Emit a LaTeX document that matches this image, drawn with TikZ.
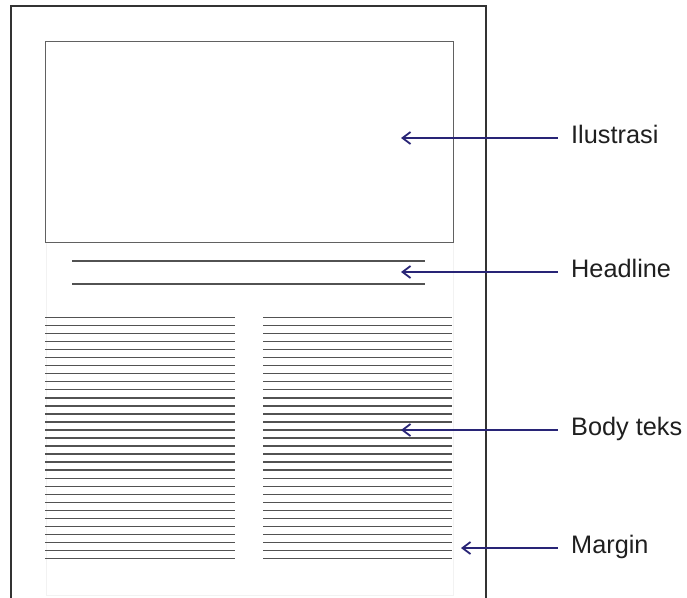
\documentclass[tikz,border=0pt]{standalone}
\usepackage{fontspec}
\setmainfont{Liberation Sans}
\usepackage{xcolor}
\usepackage{tikz}
\usetikzlibrary{arrows.meta}
\usetikzlibrary{calc}
\definecolor{pointerblue}{RGB}{40,36,118}

\begin{document}
\begin{tikzpicture}[x=1pt, y=-1pt, txt/.style={anchor=base west, inner sep=0pt, font=\fontsize{25.3}{30}\selectfont, color=black!88}, line/.style={>={Straight Barb[length=8pt,width=12pt]}}, rule/.style={draw=black!68, line width=1.2pt}, pointer/.style={<-, line, color=pointerblue, line width=1.8pt}]
	\useasboundingbox (0, 0) rectangle (687, 597);
	\fill[white] (0, 0) rectangle (687, 597);
	\coordinate (IlusTip) at (401, 138);
	\coordinate (HeadTip) at (401, 272);
	\coordinate (BodyTip) at (401, 430);
	\coordinate (MarginTip) at (461, 548);
	\node[txt] (IlusLabel) at (571, 143.5) {Ilustrasi};
	\node[txt] (HeadLabel) at (571, 277.5) {Headline};
	\node[txt] (BodyLabel) at (571, 435.5) {Body teks};
	\node[txt] (MarginLabel) at (571, 553.5) {Margin};
	\draw[black!5] (46, 242) rectangle (453, 595);
	\draw[black!80, line width=1.6pt] (11, 6) rectangle (486, 620);
	\draw[black!62, line width=1pt] (45, 41) rectangle (453, 242);
	\draw[rule] (72, 261) -- (425, 261);
	\draw[rule] (72, 284) -- (425, 284);
	\foreach \i in {0,...,30} {
		\draw[rule] (45, 317.7+8.02*\i) -- (235, 317.7+8.02*\i);
		\draw[rule] (263, 317.7+8.02*\i) -- (452, 317.7+8.02*\i);
	}
	\draw[pointer] (IlusTip) -- ($(IlusLabel.base west)+(-13, -5.5)$);
	\draw[pointer] (HeadTip) -- ($(HeadLabel.base west)+(-13, -5.5)$);
	\draw[pointer] (BodyTip) -- ($(BodyLabel.base west)+(-13, -5.5)$);
	\draw[pointer] (MarginTip) -- ($(MarginLabel.base west)+(-13, -5.5)$);
\end{tikzpicture}
\end{document}
